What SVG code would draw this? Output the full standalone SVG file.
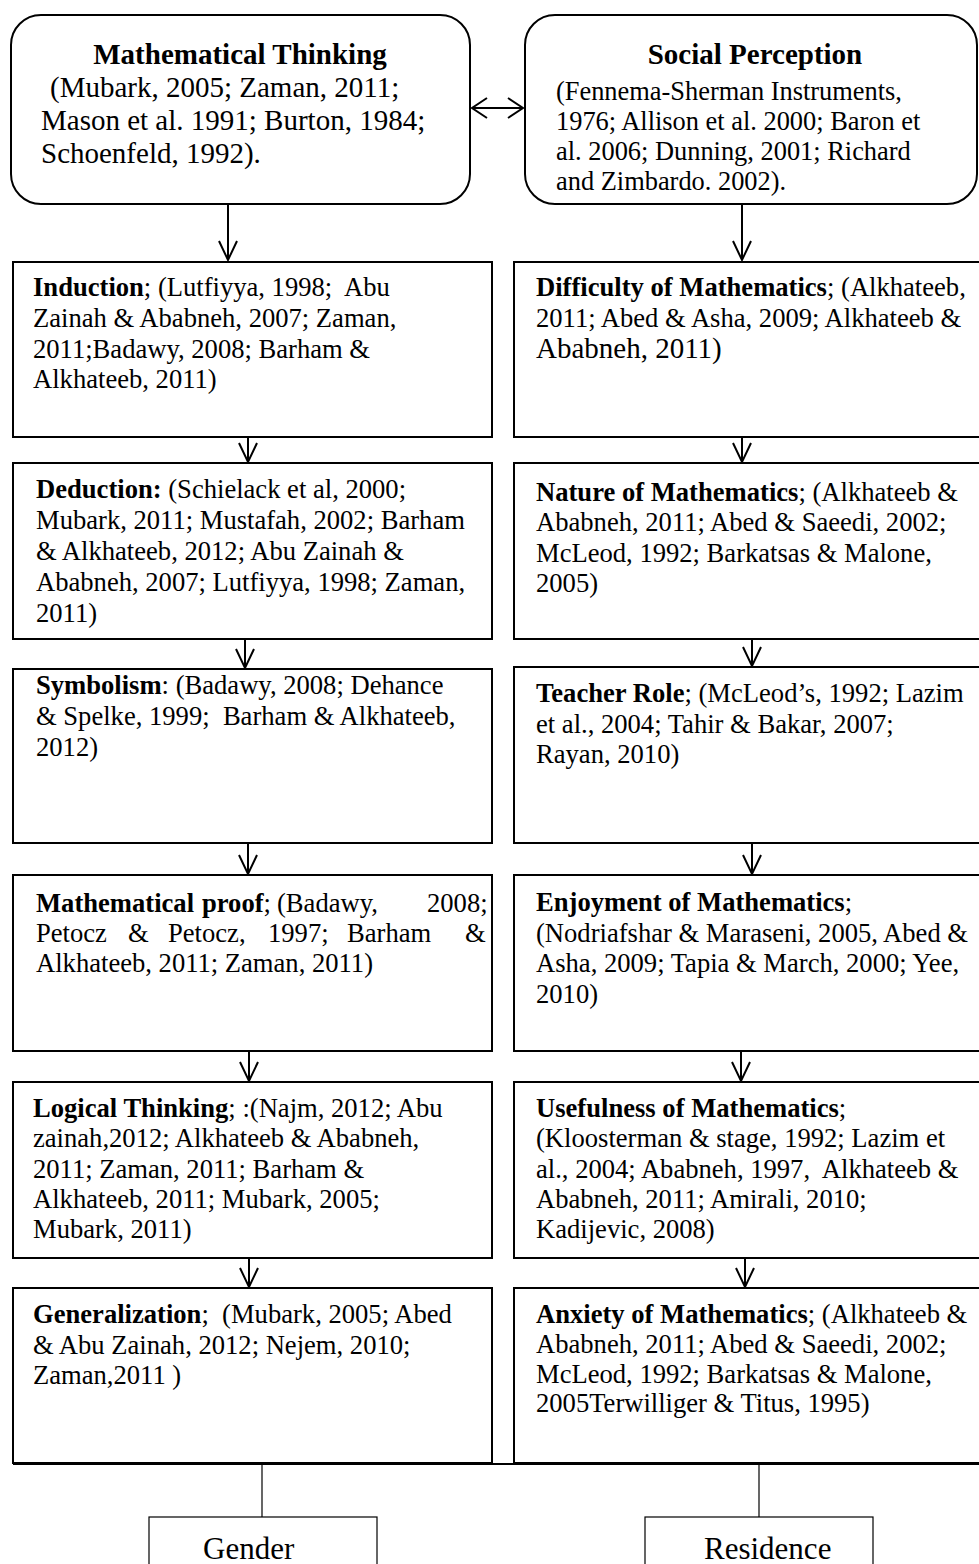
<svg xmlns="http://www.w3.org/2000/svg" width="979" height="1564" viewBox="0 0 979 1564">
<style>
.bg{fill:#fff}
.box{fill:#fff;stroke:#000;stroke-width:2}
.thin{fill:#fff;stroke:#000;stroke-width:1.2}
.t{font-family:"Liberation Serif","Times New Roman",serif;font-size:26.6px;fill:#000}
.h{font-family:"Liberation Serif","Times New Roman",serif;font-size:29px;fill:#000}
.s{font-family:"Liberation Serif","Times New Roman",serif;font-size:26.4px;fill:#000}
.g{font-family:"Liberation Serif","Times New Roman",serif;font-size:31px;fill:#000}
.b{font-weight:bold}
.conn{stroke:#000;stroke-width:2;fill:none}
.cthin{stroke:#000;stroke-width:1.2;fill:none}
</style>
<defs>
<marker id="v" markerUnits="userSpaceOnUse" viewBox="-21 -11 23 22" markerWidth="23" markerHeight="22" refX="0" refY="0" orient="auto" overflow="visible">
<path d="M -19 -9 L 0 0 L -19 9" fill="none" stroke="#000" stroke-width="2"/>
</marker>
<marker id="h" markerUnits="userSpaceOnUse" viewBox="-17 -11 19 22" markerWidth="19" markerHeight="22" refX="0" refY="0" orient="auto-start-reverse" overflow="visible">
<path d="M -15 -10 L 0 0 L -15 10" fill="none" stroke="#000" stroke-width="2"/>
</marker>
</defs>
<rect class="bg" x="0" y="0" width="979" height="1564"/>

<g id="connectors">
<path class="conn" d="M 228 204 V 260" marker-end="url(#v)"/>
<path class="conn" d="M 742 204 V 260" marker-end="url(#v)"/>
<path class="conn" d="M 472 108 H 523" marker-start="url(#h)" marker-end="url(#h)"/>
<path class="conn" d="M 248 437 V 462" marker-end="url(#v)"/>
<path class="conn" d="M 245 639 V 668" marker-end="url(#v)"/>
<path class="conn" d="M 248 843 V 874" marker-end="url(#v)"/>
<path class="conn" d="M 249 1051 V 1081" marker-end="url(#v)"/>
<path class="conn" d="M 249 1258 V 1287" marker-end="url(#v)"/>
<path class="conn" d="M 742 437 V 462" marker-end="url(#v)"/>
<path class="conn" d="M 752 639 V 666" marker-end="url(#v)"/>
<path class="conn" d="M 752 843 V 874" marker-end="url(#v)"/>
<path class="conn" d="M 741 1051 V 1081" marker-end="url(#v)"/>
<path class="conn" d="M 745 1258 V 1287" marker-end="url(#v)"/>
<path class="cthin" d="M 262 1465 V 1517"/>
<path class="cthin" d="M 759 1465 V 1517"/>
</g>

<g id="mathematical-thinking">
<rect class="box" x="11" y="15" width="459" height="189" rx="30" ry="30"/>
<text class="h b" x="240" y="64" text-anchor="middle">Mathematical Thinking</text>
<text class="h" x="50" y="97">(Mubark, 2005; Zaman, 2011;</text>
<text class="h" x="41" y="130">Mason et al. 1991; Burton, 1984;</text>
<text class="h" x="41" y="163">Schoenfeld, 1992).</text>
</g>

<g id="social-perception">
<rect class="box" x="525" y="15" width="452" height="189" rx="30" ry="30"/>
<text class="h b" x="755" y="64" text-anchor="middle">Social Perception</text>
<text class="s" x="556" y="100">(Fennema-Sherman Instruments,</text>
<text class="s" x="556" y="130">1976; Allison et al. 2000; Baron et</text>
<text class="s" x="556" y="160">al. 2006; Dunning, 2001; Richard</text>
<text class="s" x="556" y="190">and Zimbardo. 2002).</text>
</g>

<g id="induction">
<rect class="box" x="13" y="262" width="479" height="175"/>
<text class="t" x="33" y="296" xml:space="preserve"><tspan class="b">Induction</tspan>; (Lutfiyya, 1998;  Abu</text>
<text class="t" x="33" y="327">Zainah &amp; Ababneh, 2007; Zaman,</text>
<text class="t" x="33" y="358">2011;Badawy, 2008; Barham &amp;</text>
<text class="t" x="33" y="388">Alkhateeb, 2011)</text>
</g>

<g id="difficulty">
<rect class="box" x="514" y="262" width="470" height="175"/>
<text class="t" x="536" y="296"><tspan class="b">Difficulty of Mathematics</tspan>; (Alkhateeb,</text>
<text class="t" x="536" y="327">2011; Abed &amp; Asha, 2009; Alkhateeb &amp;</text>
<text class="h" x="536" y="358">Ababneh, 2011)</text>
</g>

<g id="deduction">
<rect class="box" x="13" y="463" width="479" height="176"/>
<text class="t" x="36" y="498"><tspan class="b">Deduction:</tspan> (Schielack et al, 2000;</text>
<text class="t" x="36" y="529">Mubark, 2011; Mustafah, 2002; Barham</text>
<text class="t" x="36" y="560">&amp; Alkhateeb, 2012; Abu Zainah &amp;</text>
<text class="t" x="36" y="591">Ababneh, 2007; Lutfiyya, 1998; Zaman,</text>
<text class="t" x="36" y="622">2011)</text>
</g>

<g id="nature">
<rect class="box" x="514" y="463" width="470" height="176"/>
<text class="t" x="536" y="501"><tspan class="b">Nature of Mathematics</tspan>; (Alkhateeb &amp;</text>
<text class="t" x="536" y="531">Ababneh, 2011; Abed &amp; Saeedi, 2002;</text>
<text class="t" x="536" y="562">McLeod, 1992; Barkatsas &amp; Malone,</text>
<text class="t" x="536" y="592">2005)</text>
</g>

<g id="symbolism">
<rect class="box" x="13" y="669" width="479" height="174"/>
<text class="t" x="36" y="694"><tspan class="b">Symbolism</tspan>: (Badawy, 2008; Dehance</text>
<text class="t" x="36" y="725" xml:space="preserve">&amp; Spelke, 1999;  Barham &amp; Alkhateeb,</text>
<text class="t" x="36" y="756">2012)</text>
</g>

<g id="teacher-role">
<rect class="box" x="514" y="667" width="470" height="176"/>
<text class="t" x="536" y="702"><tspan class="b">Teacher Role</tspan>; (McLeod’s, 1992; Lazim</text>
<text class="t" x="536" y="733">et al., 2004; Tahir &amp; Bakar, 2007;</text>
<text class="t" x="536" y="763">Rayan, 2010)</text>
</g>

<g id="mathematical-proof">
<rect class="box" x="13" y="875" width="479" height="176"/>
<text class="t" y="912"><tspan class="b" x="36">Mathematical</tspan><tspan class="b" x="202">proof</tspan>;<tspan x="277">(Badawy,</tspan><tspan x="427">2008;</tspan></text>
<text class="t" y="942"><tspan x="36">Petocz</tspan><tspan x="128">&amp;</tspan><tspan x="168">Petocz,</tspan><tspan x="268">1997;</tspan><tspan x="347">Barham</tspan><tspan x="465">&amp;</tspan></text>
<text class="t" x="36" y="972">Alkhateeb, 2011; Zaman, 2011)</text>
</g>

<g id="enjoyment">
<rect class="box" x="514" y="875" width="470" height="176"/>
<text class="t" x="536" y="911"><tspan class="b">Enjoyment of Mathematics</tspan>;</text>
<text class="t" x="536" y="942">(Nodriafshar &amp; Maraseni, 2005, Abed &amp;</text>
<text class="t" x="536" y="972">Asha, 2009; Tapia &amp; March, 2000; Yee,</text>
<text class="t" x="536" y="1003">2010)</text>
</g>

<g id="logical-thinking">
<rect class="box" x="13" y="1082" width="479" height="176"/>
<text class="t" x="33" y="1117"><tspan class="b">Logical Thinking</tspan>; :(Najm, 2012; Abu</text>
<text class="t" x="33" y="1147">zainah,2012; Alkhateeb &amp; Ababneh,</text>
<text class="t" x="33" y="1178">2011; Zaman, 2011; Barham &amp;</text>
<text class="t" x="33" y="1208">Alkhateeb, 2011; Mubark, 2005;</text>
<text class="t" x="33" y="1238">Mubark, 2011)</text>
</g>

<g id="usefulness">
<rect class="box" x="514" y="1082" width="470" height="176"/>
<text class="t" x="536" y="1117"><tspan class="b">Usefulness of Mathematics</tspan>;</text>
<text class="t" x="536" y="1147">(Kloosterman &amp; stage, 1992; Lazim et</text>
<text class="t" x="536" y="1178" xml:space="preserve">al., 2004; Ababneh, 1997,  Alkhateeb &amp;</text>
<text class="t" x="536" y="1208">Ababneh, 2011; Amirali, 2010;</text>
<text class="t" x="536" y="1238">Kadijevic, 2008)</text>
</g>

<g id="generalization">
<rect class="box" x="13" y="1288" width="479" height="175"/>
<text class="t" x="33" y="1323" xml:space="preserve"><tspan class="b">Generalization</tspan>;  (Mubark, 2005; Abed</text>
<text class="t" x="33" y="1354">&amp; Abu Zainah, 2012; Nejem, 2010;</text>
<text class="t" x="33" y="1384">Zaman,2011 )</text>
</g>

<g id="anxiety">
<rect class="box" x="514" y="1288" width="470" height="175"/>
<text class="t" x="536" y="1323"><tspan class="b">Anxiety of Mathematics</tspan>; (Alkhateeb &amp;</text>
<text class="t" x="536" y="1353">Ababneh, 2011; Abed &amp; Saeedi, 2002;</text>
<text class="t" x="536" y="1383">McLeod, 1992; Barkatsas &amp; Malone,</text>
<text class="t" x="536" y="1412">2005Terwilliger &amp; Titus, 1995)</text>
</g>

<g id="bottom-bar">
<path class="conn" d="M 13 1464 H 979"/>
</g>

<g id="gender">
<rect class="thin" x="149" y="1517" width="228" height="60"/>
<text class="g" x="203" y="1559">Gender</text>
</g>

<g id="residence">
<rect class="thin" x="645" y="1517" width="228" height="60"/>
<text class="g" x="704" y="1559">Residence</text>
</g>
</svg>
